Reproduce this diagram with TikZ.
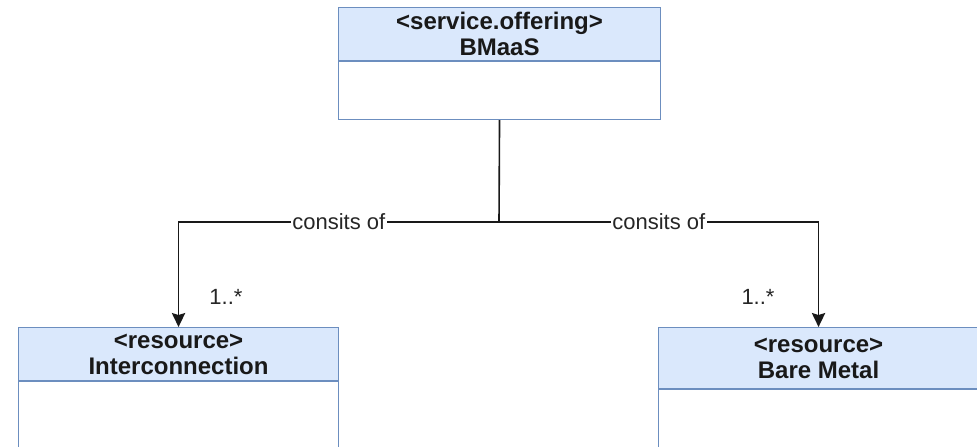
\documentclass[tikz,border=0pt]{standalone}
\usepackage{fontspec}
\setmainfont{Liberation Sans}
\usepackage{tikz}
\usetikzlibrary{arrows.meta,positioning}
\definecolor{hdrfill}{HTML}{DAE8FC}
\definecolor{hdrline}{HTML}{6C8EBF}
\tikzset{
  classhead/.style={draw=hdrline, fill=hdrfill, line width=0.8pt, align=center, inner sep=0pt, text=black!90, font=\fontsize{18}{19.5}\selectfont\bfseries},
  classbody/.style={draw=hdrline, fill=white, line width=0.8pt, inner sep=0pt},
  link/.style={line width=1.2pt, black!90},
  linklabel/.style={fill=white, inner sep=1pt, text=black!85, font=\fontsize{16.5}{18}\selectfont}
}
\begin{document}
\begin{tikzpicture}[x=0.75pt, y=-0.75pt]
			\useasboundingbox (0,0) rectangle (977,446);
			\clip (0,0) rectangle (977,446);
			% Classes
			\node[classhead, minimum width=322*0.75pt, minimum height=53*0.75pt, anchor=north west] (bmaas) at (338,7) {<service.offering>\\BMaaS};
			\node[classbody, minimum width=322*0.75pt, minimum height=58*0.75pt, anchor=north] (bmaasbody) at (bmaas.south) {};
			\node[classhead, minimum width=320*0.75pt, minimum height=53*0.75pt, anchor=north west] (inter) at (18,327) {<resource>\\Interconnection};
			\node[classbody, minimum width=320*0.75pt, minimum height=90*0.75pt, anchor=north] (interbody) at (inter.south) {};
			\node[classhead, minimum width=320*0.75pt, minimum height=61*0.75pt, anchor=north west] (metal) at (658,327) {<resource>\\Bare Metal};
			\node[classbody, minimum width=320*0.75pt, minimum height=90*0.75pt, anchor=north] (metalbody) at (metal.south) {};
			% Connectors
			\coordinate (split) at (499,222);
			\draw[link] (bmaasbody.south) -- (split);
			\draw[link, -{Stealth[length=10.5pt, width=10pt, inset=1.5pt]}] (split) -| node[linklabel, pos=0.25] (lblL) {consits of} (inter.north);
			\draw[link, -{Stealth[length=10.5pt, width=10pt, inset=1.5pt]}] (split) -| node[linklabel, pos=0.25] (lblR) {consits of} (metal.north);
			% Multiplicities
			\node[text=black!85, font=\fontsize{16.5}{18}\selectfont] (multL) at (226,297) {1..*};
			\node[text=black!85, font=\fontsize{16.5}{18}\selectfont] (multR) at (758,297) {1..*};
		\end{tikzpicture}
\end{document}
